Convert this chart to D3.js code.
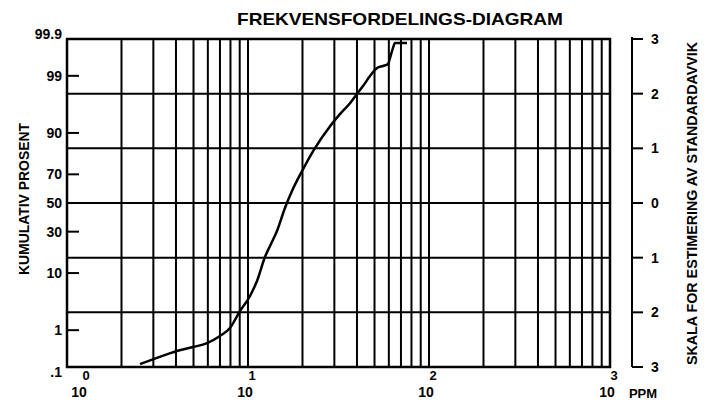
<!DOCTYPE html>
<html>
<head>
<meta charset="utf-8">
<script src="https://cdn.jsdelivr.net/npm/d3@7"></script>
<style>
  html, body { margin: 0; padding: 0; background: #fff; }
  svg text { font-family: "Liberation Sans", Arial, sans-serif; font-weight: bold; fill: #000; }
</style>
</head>
<body>
<svg id="chart" width="707" height="411"></svg>
<script>
// Cumulative frequency curve: concentration (PPM) vs cumulative percent
const ppmValues = [2.53, 3.06, 4.05, 4.97, 5.94, 7.0, 7.95, 9.03, 10.26, 11.21, 12.41, 13.4, 14.46, 16.0, 17.5, 19.9, 22.9, 28.4, 32.2, 36.6, 40.0, 43.2, 47.2, 51.6, 55.7, 59.4, 60.9, 63.2, 64.9, 75.6];
const cumPercent = [0.16, 0.22, 0.34, 0.42, 0.52, 0.75, 1.11, 2.41, 4.45, 7.68, 16.2, 22.7, 30.4, 46.4, 58.7, 72.1, 82.9, 92.0, 94.8, 96.6, 97.7, 98.38, 98.99, 99.32, 99.39, 99.45, 99.60, 99.77, 99.83, 99.83];

// Probability axis labels (percent) and standard deviation scale
const percentTicks = [0.1, 1, 10, 30, 50, 70, 90, 99, 99.9];
const percentLabels = [".1", "1", "10", "30", "50", "70", "90", "99", "99.9"];
const sigmaTicks = [3, 2, 1, 0, -1, -2, -3];
const sigmaLabels = ["3", "2", "1", "0", "1", "2", "3"];
const decadeTicks = [1, 10, 100, 1000];
const decadeExponents = ["0", "1", "2", "3"];

const titleText = "FREKVENSFORDELINGS-DIAGRAM";
const leftTitle = "KUMULATIV PROSENT";
const rightTitle = "SKALA FOR ESTIMERING AV STANDARDAVVIK";
const unitText = "PPM";

// Inverse of the standard normal CDF (Acklam's rational approximation)
function probit(p) {
  const a = [-3.969683028665376e+01, 2.209460984245205e+02, -2.759285104469687e+02, 1.383577518672690e+02, -3.066479806614716e+01, 2.506628277459239e+00];
  const b = [-5.447609879822406e+01, 1.615858368580409e+02, -1.556989798598866e+02, 6.680131188771972e+01, -1.328068155288572e+01];
  const c = [-7.784894002430293e-03, -3.223964580411365e-01, -2.400758277161838e+00, -2.549732539343734e+00, 4.374664141464968e+00, 2.938163982698783e+00];
  const d = [7.784695709041462e-03, 3.224671290700398e-01, 2.445134137142996e+00, 3.754408661907416e+00];
  const pl = 0.02425, ph = 1 - pl;
  let q, r;
  if (p < pl) {
    q = Math.sqrt(-2 * Math.log(p));
    return (((((c[0]*q+c[1])*q+c[2])*q+c[3])*q+c[4])*q+c[5]) / ((((d[0]*q+d[1])*q+d[2])*q+d[3])*q+1);
  } else if (p <= ph) {
    q = p - 0.5; r = q * q;
    return (((((a[0]*r+a[1])*r+a[2])*r+a[3])*r+a[4])*r+a[5])*q / (((((b[0]*r+b[1])*r+b[2])*r+b[3])*r+b[4])*r+1);
  } else {
    q = Math.sqrt(-2 * Math.log(1 - p));
    return -(((((c[0]*q+c[1])*q+c[2])*q+c[3])*q+c[4])*q+c[5]) / ((((d[0]*q+d[1])*q+d[2])*q+d[3])*q+1);
  }
}

const svg = d3.select("#chart");
const plotLeft = 67, plotRight = 610, plotTop = 39, plotBottom = 367;

const x = d3.scaleLog().domain([1, 1000]).range([plotLeft, plotRight]);
const ySigma = d3.scaleLinear().domain([-3, 3]).range([plotBottom, plotTop]);
const yPct = p => ySigma(probit(p / 100));

// Vertical log grid: every integer multiple within each decade
const vLines = [];
for (const dec of [1, 10, 100]) {
  for (let k = 2; k <= 10; k++) {
    const v = k * dec;
    if (v < 1000) vLines.push(v);
  }
}
svg.append("g").selectAll("line").data(vLines).join("line")
  .attr("x1", d => x(d)).attr("x2", d => x(d))
  .attr("y1", plotTop).attr("y2", plotBottom)
  .attr("stroke", "#000").attr("stroke-width", 2);

// Horizontal grid at whole standard deviations
svg.append("g").selectAll("line").data([-2, -1, 0, 1, 2]).join("line")
  .attr("x1", plotLeft).attr("x2", plotRight)
  .attr("y1", d => ySigma(d)).attr("y2", d => ySigma(d))
  .attr("stroke", "#000").attr("stroke-width", 2);

// Frame
svg.append("rect")
  .attr("x", plotLeft).attr("y", plotTop)
  .attr("width", plotRight - plotLeft).attr("height", plotBottom - plotTop)
  .attr("fill", "none").attr("stroke", "#000").attr("stroke-width", 2.5);

// Left probability axis: short inward ticks and labels
svg.append("g").selectAll("line")
  .data(percentTicks.filter(p => p > 0.5 && p < 99.5 && p !== 50)).join("line")
  .attr("x1", plotLeft).attr("x2", plotLeft + 12)
  .attr("y1", d => yPct(d)).attr("y2", d => yPct(d))
  .attr("stroke", "#000").attr("stroke-width", 2);

svg.append("g").selectAll("text").data(percentTicks).join("text")
  .attr("x", 62)
  .attr("y", d => yPct(d) + 5)
  .attr("text-anchor", "end")
  .attr("font-size", 14)
  .text((d, i) => percentLabels[i]);

// Right standard deviation scale
const axisX = 632;
svg.append("line")
  .attr("x1", axisX).attr("x2", axisX)
  .attr("y1", plotTop - 2).attr("y2", plotBottom)
  .attr("stroke", "#000").attr("stroke-width", 2);
svg.append("g").selectAll("line").data(sigmaTicks).join("line")
  .attr("x1", axisX).attr("x2", axisX + 11)
  .attr("y1", d => ySigma(d)).attr("y2", d => ySigma(d))
  .attr("stroke", "#000").attr("stroke-width", 2);
svg.append("g").selectAll("text").data(sigmaTicks).join("text")
  .attr("x", 651)
  .attr("y", d => ySigma(d) + 5)
  .attr("font-size", 14)
  .text((d, i) => sigmaLabels[i]);

// Bottom decade labels (10 with superscript exponent)
const xl = svg.append("g");
decadeTicks.forEach((v, i) => {
  const px = i === 0 ? x(v) + 12 : x(v) - 3;
  xl.append("text").attr("x", px).attr("y", 397)
    .attr("text-anchor", "middle").attr("font-size", 14).text("10");
  xl.append("text").attr("x", px + 7).attr("y", 380)
    .attr("text-anchor", "middle").attr("font-size", 13).text(decadeExponents[i]);
});
xl.append("text").attr("x", 643).attr("y", 398)
  .attr("text-anchor", "middle").attr("font-size", 13).text(unitText);

// Titles
svg.append("text")
  .attr("x", 237).attr("y", 25)
  .attr("font-size", 17)
  .attr("textLength", 326).attr("lengthAdjust", "spacingAndGlyphs")
  .text(titleText);

svg.append("text")
  .attr("transform", "translate(29,275) rotate(-90)")
  .attr("font-size", 15)
  .attr("textLength", 152).attr("lengthAdjust", "spacingAndGlyphs")
  .text(leftTitle);

svg.append("text")
  .attr("transform", "translate(697,365) rotate(-90)")
  .attr("font-size", 15)
  .attr("textLength", 323).attr("lengthAdjust", "spacingAndGlyphs")
  .text(rightTitle);

// Cumulative curve
const pts = ppmValues.map((v, i) => [v, cumPercent[i]]);
const line = d3.line()
  .x(d => x(d[0]))
  .y(d => yPct(d[1]))
  .curve(d3.curveMonotoneX);
svg.append("path")
  .datum(pts)
  .attr("d", line)
  .attr("fill", "none")
  .attr("stroke", "#000")
  .attr("stroke-width", 2.5)
  .attr("stroke-linejoin", "round");
</script>
</body>
</html>
